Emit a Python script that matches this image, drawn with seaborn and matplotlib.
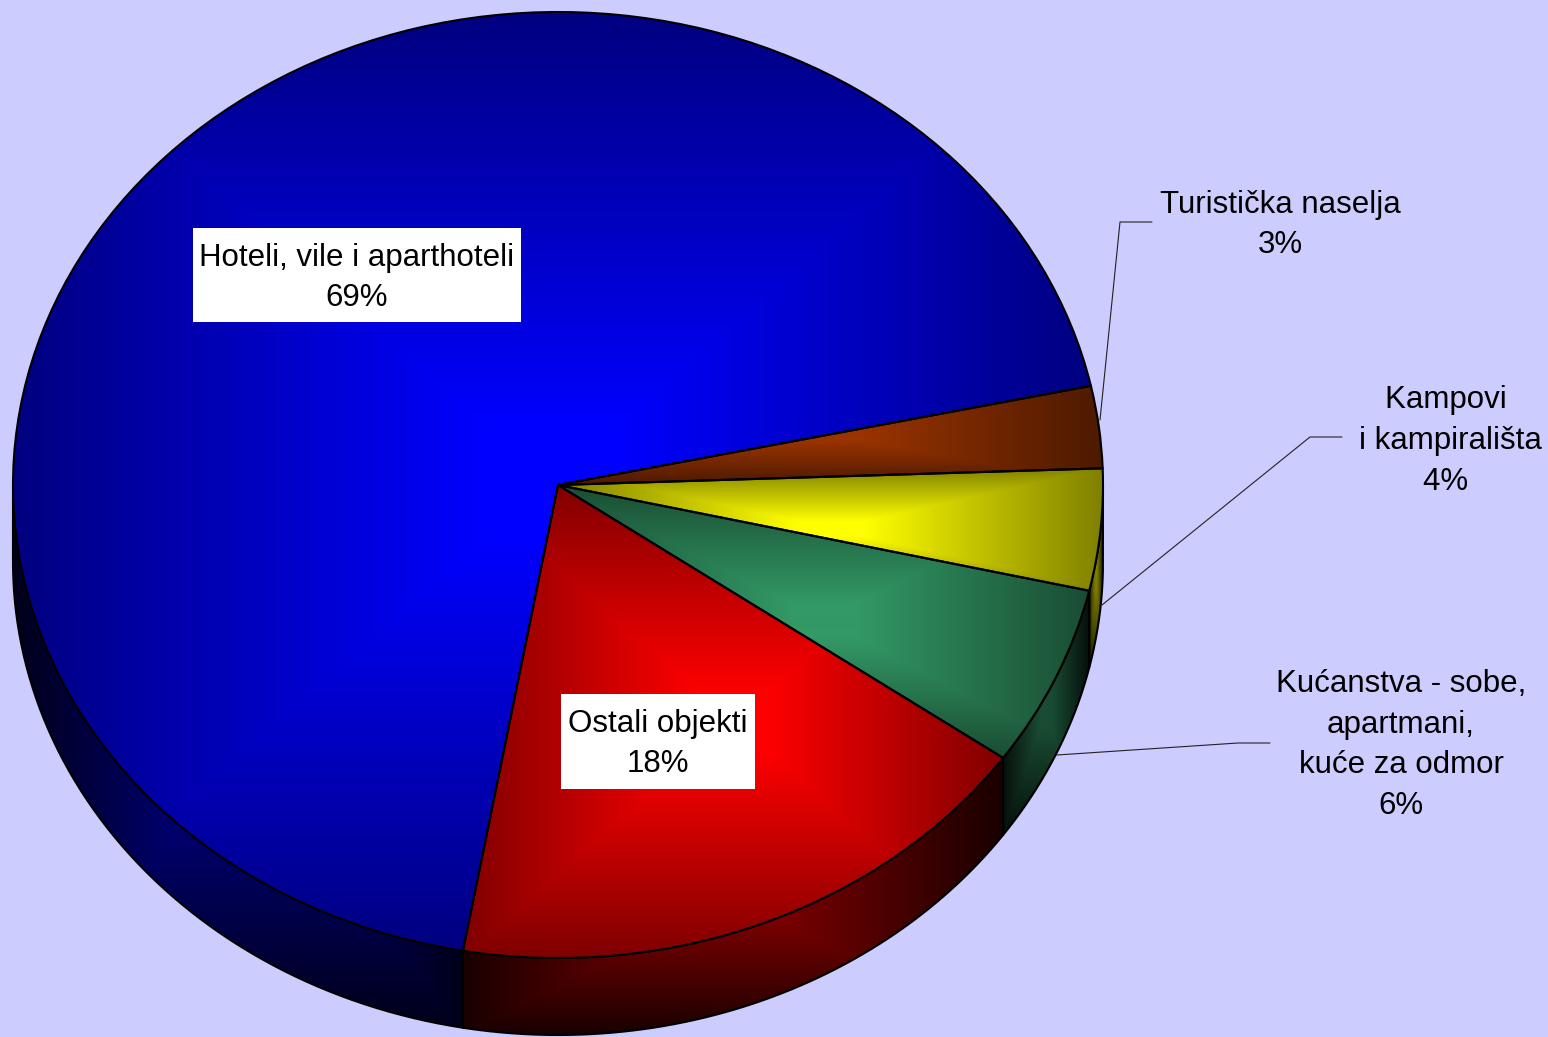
import numpy as np
import matplotlib
matplotlib.use('Agg')
import matplotlib.pyplot as plt
import seaborn as sns
from matplotlib.path import Path
from matplotlib.patches import PathPatch, Rectangle
from matplotlib.transforms import Affine2D

# data
slices = ['Hoteli, vile i aparthoteli', 'Ostali objekti', 'Kućanstva', 'Kampovi', 'Turistička naselja']
shares = [68.85, 18, 6.2, 4.15, 2.8]
base_hex = ['#0000FF', '#FF0000', '#339966', '#FFFF00', '#993300']
label_text = ['Hoteli, vile i aparthoteli\n69%', 'Ostali objekti\n18%',
              'Kućanstva - sobe,\napartmani,\nkuće za odmor\n6%',
              'Kampovi \ni kampirališta\n4% ', 'Turistička naselja\n3%']

# layout in image pixels
W, H = 1548, 1037
cx, cy, rx, ry = 558, 485, 545, 473
depth = 77
label_xy = [(357, 278), (658, 744), (1401, 745), (1450, 441), (1280, 225)]
white_boxes = [(193, 228, 328, 94), (561, 694, 194, 95)]
leaders = [[(1100, 420), (1120, 222), (1152, 222)],
           [(1102, 605), (1310, 437), (1342, 437)],
           [(1057, 755), (1238, 743), (1270, 743)]]

sns.set_theme(style='white')
plt.rcParams['font.family'] = ['Liberation Sans', 'DejaVu Sans']
colors = sns.color_palette(base_hex)
bg = '#CCCCFF'

fig = plt.figure(figsize=(W / 100, H / 100), dpi=100, facecolor=bg)
ax = fig.add_axes([0, 0, 1, 1])
wedges = ax.pie(shares, startangle=12.1, colors=colors, radius=1,
                wedgeprops=dict(edgecolor='black', linewidth=1.5, zorder=5))[0]

xlim = (-cx / rx, (W - cx) / rx)
ylim = ((cy - H) / ry, cy / ry)
extent = (xlim[0], xlim[1], ylim[0], ylim[1])

# coarse pixel grid for the gradients, imshow smooths it
step = 2
gx, gy = np.meshgrid(np.arange(0, W, step) + step / 2, np.arange(0, H, step) + step / 2)


def rect_gradient(xs, ys, flat=0.12):
    # 0 around the middle of the bounding box, 1 on its border
    x0, x1, y0, y1 = xs.min(), xs.max(), ys.min(), ys.max()
    sx = np.abs(gx - (x0 + x1) / 2) / max((x1 - x0) / 2, 1)
    sy = np.abs(gy - (y0 + y1) / 2) / max((y1 - y0) / 2, 1)
    return np.clip((np.maximum(sx, sy) - flat) / (1 - flat), 0, 1)


def shade(color, s, hi, lo):
    k = hi + (lo - hi) * s
    return np.dstack([color[0] * k, color[1] * k, color[2] * k])


for i, w in enumerate(wedges):
    # side wall, only the front half of the rim shows
    t1, t2 = max(w.theta1, 180), min(w.theta2, 360)
    if t2 > t1:
        th = np.radians(np.linspace(t1, t2, 120))
        top = np.column_stack([np.cos(th), np.sin(th)])
        bottom = top[::-1] - [0, depth / ry]
        verts = np.vstack([top, bottom, top[:1]])
        side = PathPatch(Path(verts), facecolor='none', edgecolor='black', linewidth=1.5, zorder=3)
        ax.add_patch(side)
        s = rect_gradient(cx + rx * verts[:, 0], cy - ry * verts[:, 1])
        im = ax.imshow(shade(colors[i], s, 0.5, 0.1), extent=extent, origin='upper',
                       aspect='auto', interpolation='bilinear', zorder=2)
        im.set_clip_path(side)

    # top face
    th = np.radians(np.linspace(w.theta1, w.theta2, 400))
    xs = np.append(cx + rx * np.cos(th), cx)
    ys = np.append(cy - ry * np.sin(th), cy)
    s = rect_gradient(xs, ys)
    im = ax.imshow(shade(colors[i], s, 1.0, 0.5), extent=extent, origin='upper',
                   aspect='auto', interpolation='bilinear', zorder=4)
    im.set_clip_path(w)
    w.set_facecolor('none')

ax.set_aspect('auto')
ax.set_xlim(*xlim)
ax.set_ylim(*ylim)

# pixel coordinates, y going down
pix = Affine2D().scale(1, -1).translate(0, H)

for line in leaders:
    pts = np.array(line)
    ax.plot(pts[:, 0], pts[:, 1], color='#222222', lw=0.8, transform=pix, zorder=1, clip_on=False)

for bx, by, bw, bh in white_boxes:
    ax.add_patch(Rectangle((bx, by), bw, bh, facecolor='white', edgecolor='none',
                           transform=pix, zorder=6))

for txt, xy in zip(label_text, label_xy):
    ax.text(xy[0], xy[1], txt, transform=pix, ha='center', va='center', fontsize=22.5,
            color='black', linespacing=1.47, zorder=7)

fig.savefig('out.png', dpi=100, facecolor=bg)
